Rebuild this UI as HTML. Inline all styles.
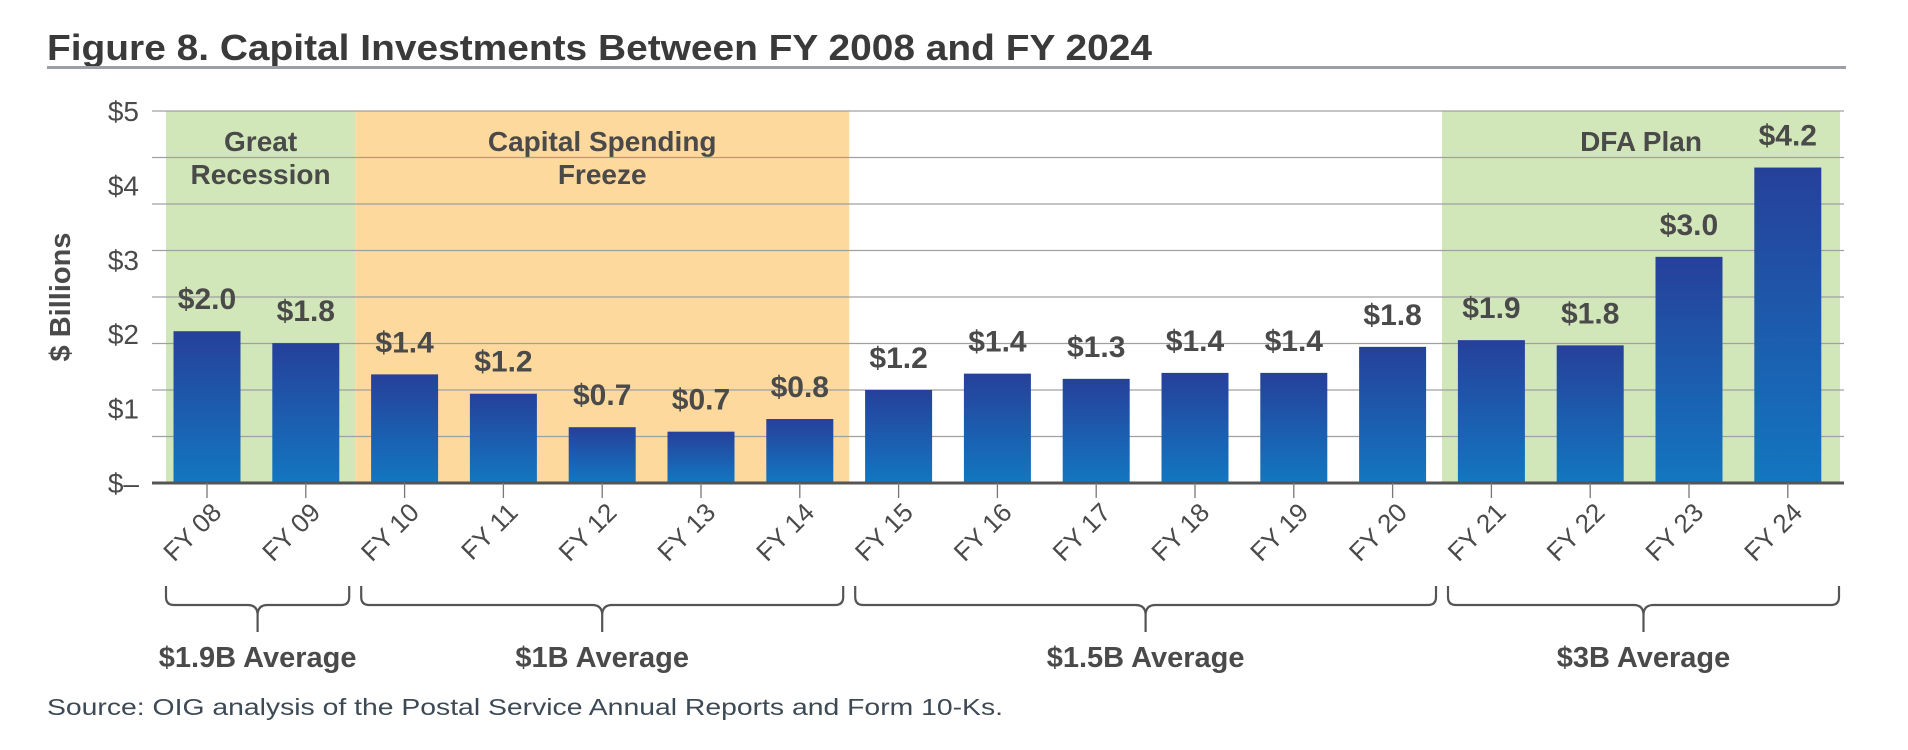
<!DOCTYPE html>
<html><head><meta charset="utf-8"><style>
html,body{margin:0;padding:0;background:#fff;}
svg{display:block;font-family:"Liberation Sans",sans-serif;}
</style></head><body>
<svg id="chart" width="1908" height="750" viewBox="0 0 1908 750">
<text x="47" y="60" font-size="36" font-weight="bold" fill="#3a3a3a" textLength="1105" lengthAdjust="spacingAndGlyphs">Figure 8. Capital Investments Between FY 2008 and FY 2024</text>
<rect x="47" y="66" width="1799" height="3" fill="#9aa0a6"/>
<defs><linearGradient id="bg" x1="0" y1="0" x2="0" y2="1"><stop offset="0" stop-color="#26409a"/><stop offset="1" stop-color="#1376c0"/></linearGradient></defs>
<g id="bands"></g><g id="grid"></g><g id="bars"></g><g id="labels"></g>
<text transform="translate(70,297) rotate(-90)" text-anchor="middle" font-size="29" font-weight="bold" fill="#4a4a4a">$ Billions</text>
<text x="47" y="715" font-size="23" fill="#3d4a55" textLength="956" lengthAdjust="spacingAndGlyphs">Source: OIG analysis of the Postal Service Annual Reports and Form 10-Ks.</text>
</svg>
<script>
const categories=["FY 08","FY 09","FY 10","FY 11","FY 12","FY 13","FY 14","FY 15","FY 16","FY 17","FY 18","FY 19","FY 20","FY 21","FY 22","FY 23","FY 24"];
const values=[2.04,1.88,1.46,1.20,0.75,0.69,0.86,1.25,1.47,1.40,1.48,1.48,1.83,1.92,1.85,3.04,4.24];
const valueLabels=["$2.0","$1.8","$1.4","$1.2","$0.7","$0.7","$0.8","$1.2","$1.4","$1.3","$1.4","$1.4","$1.8","$1.9","$1.8","$3.0","$4.2"];
const yTicks=[0,1,2,3,4,5];
const yTickLabels=["$\u2013","$1","$2","$3","$4","$5"];
const bandStarts=[0,2,13];
const bandEnds=[1,6,16];
const bandLabels=[["Great","Recession"],["Capital Spending","Freeze"],["DFA Plan"]];
const groupStarts=[0,2,7,13];
const groupEnds=[1,6,12,16];
const groupLabels=["$1.9B Average","$1B Average","$1.5B Average","$3B Average"];

const NS="http://www.w3.org/2000/svg";
const x0=207,step=98.8,barW=67,y0=483,perUnit=74.4,plotL=152,plotR=1844;
const xs=i=>x0+i*step;
const ys=v=>y0-v*perUnit;
function mk(tag,parent,attrs,text){const e=document.createElementNS(NS,tag);for(const k in attrs)e.setAttribute(k,attrs[k]);if(text!==undefined)e.textContent=text;parent.appendChild(e);return e;}
const gB=document.getElementById('bands'),gG=document.getElementById('grid'),gR=document.getElementById('bars'),gL=document.getElementById('labels');
const bandColors=["#d2e7b9","#fdd99d","#d2e7b9"];
bandStarts.forEach((s,i)=>{
  const l=i===0?166:xs(s)-step/2, r=i===2?1840:xs(bandEnds[i])+step/2;
  const b=mk('rect',gB,{x:l,y:ys(5),width:r-l,height:y0-ys(5),fill:bandColors[i]});
  
  
  bandLabels[i].forEach((t,j)=>{
    const tx=mk('text',gB,{x:(l+r)/2,y:151+j*33,'text-anchor':'middle','font-size':28,'font-weight':'bold',fill:'#4a4a4a'},t);
    
    
  });
});
for(let k=0;k<=8;k++){
  const v=5*k/8;
  const ln=mk('line',gG,{x1:plotL,x2:plotR,y1:ys(v),y2:ys(v),stroke:k===0?'#555':'#a0a0a0','stroke-width':k===0?3:1.3});
  
  
}
yTicks.forEach((v,i)=>{
  const t=mk('text',gG,{x:139,y:ys(v)+10,'text-anchor':'end','font-size':28,fill:'#4a4a4a'},yTickLabels[i]);
  
  
});
values.forEach((v,i)=>{
  const b=mk('rect',gR,{x:xs(i)-barW/2,y:ys(v),width:barW,height:y0-1.5-ys(v),fill:'url(#bg)'});
  
  
  const t=mk('text',gL,{x:xs(i),y:ys(v)-22,'text-anchor':'middle','font-size':30,'font-weight':'bold',fill:'#4a4a4a'},valueLabels[i]);
  
  
  const tk=mk('line',gL,{x1:xs(i),x2:xs(i),y1:y0,y2:498,stroke:'#777','stroke-width':1.3});
  
  
  const xl=mk('text',gL,{transform:`translate(${xs(i)+16},514) rotate(-45)`,'text-anchor':'end','font-size':26,fill:'#4a4a4a'},categories[i]);
  
  
});
groupStarts.forEach((s,i)=>{
  const l=i===0?166:xs(s)-step/2+6, r=i===3?1839:xs(groupEnds[i])+step/2-6, c=(l+r)/2;
  const d=`M${l},586 v11 q0,8 8,8 H${c-10} q10,0 10,10 v17 M${r},586 v11 q0,8 -8,8 H${c+10} q-10,0 -10,10`;
  const p=mk('path',gL,{d:d,fill:'none',stroke:'#555','stroke-width':2.2});
  
  
  const t=mk('text',gL,{x:c,y:667,'text-anchor':'middle','font-size':29,'font-weight':'bold',fill:'#4a4a4a'},groupLabels[i]);
  
  
});
</script>
</body></html>
